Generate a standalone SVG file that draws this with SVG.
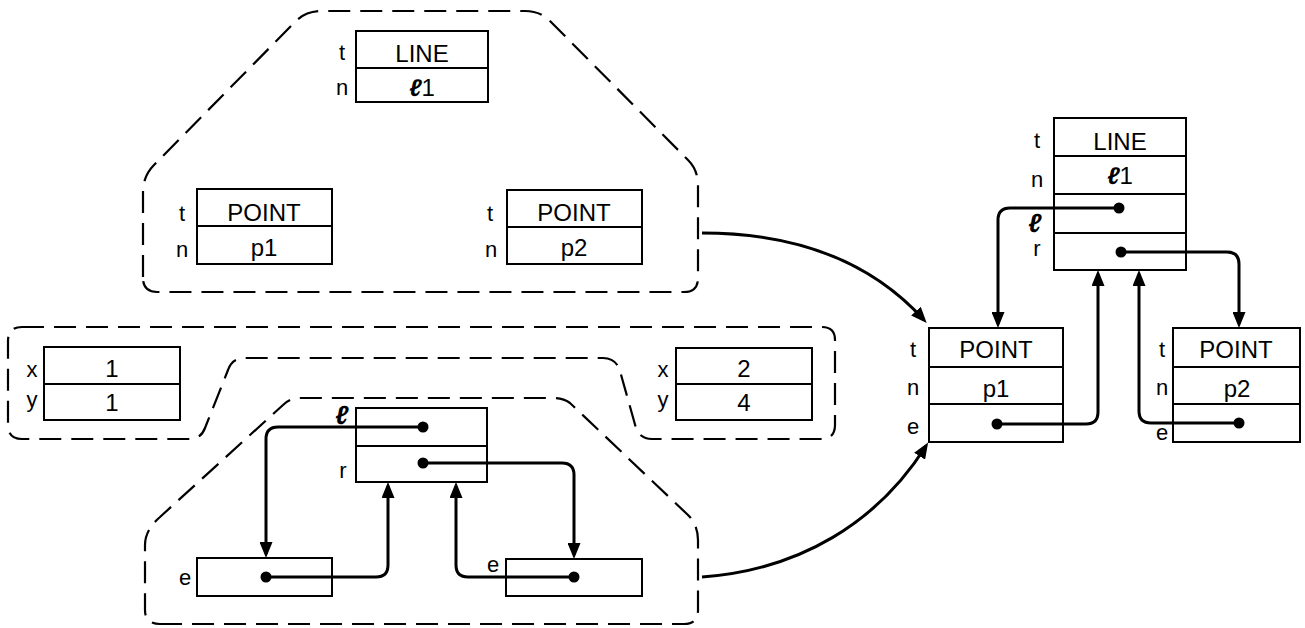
<svg xmlns="http://www.w3.org/2000/svg" width="1305" height="628" viewBox="0 0 1305 628">
<style>
.bx{fill:none;stroke:#000;stroke-width:2}
.dash{fill:none;stroke:#000;stroke-width:2.2;stroke-dasharray:22 10}
.cn{fill:none;stroke:#000;stroke-width:3}
.dot{fill:#000}
text{font-family:"Liberation Sans","DejaVu Sans",sans-serif;fill:#000}
.v{font-size:24px;text-anchor:middle}
.lb{font-size:22px;text-anchor:middle}
.sc{font-size:26px;font-weight:bold;font-style:italic}
</style>
<defs>
<marker id="ah" markerUnits="userSpaceOnUse" markerWidth="17" markerHeight="13" refX="12" refY="6.5" orient="auto">
<path d="M0,0 L16,6.5 L0,13 z" fill="#000"/>
</marker>
</defs>
<rect width="1305" height="628" fill="#fff"/>

<g id="region-top">
<path class="dash" d="M143 277 L143 192 Q143 176 154 165 L296 21 Q306 11 322 11 L525 11 Q540 11 550 21 L688 160 Q698 170 698 185 L698 278 Q698 292 684 292 L157 292 Q143 292 143 278 Z"/>
</g>
<g id="region-mid">
<path class="dash" d="M22 327 L822 327 Q835 327 835 340 L835 425 Q835 439 821 439 L652 439 Q640 439 636 428 L620 371 Q616 358 603 358 L245 358 Q232 358 228 370 L205 428 Q201 439 189 439 L22 439 Q8 439 8 425 L8 341 Q8 327 22 327 Z"/>
</g>
<g id="region-bottom">
<path class="dash" d="M160 624 L684 624 Q698 624 698 610 L698 540 Q698 525 688 515 L570 403 Q563 398 553 398 L300 398 Q290 398 283 405 L160 517 Q145 530 145 545 L145 610 Q145 624 160 624 Z"/>
</g>

<g id="top-line">
<rect class="bx" x="356" y="31" width="132" height="71"/>
<line class="bx" x1="356" y1="68" x2="488" y2="68"/>
<text class="v" x="422" y="62">LINE</text>
<text class="v" x="422" y="96"><tspan font-weight="bold" font-style="italic">ℓ</tspan>1</text>
<text class="lb" x="342" y="60">t</text>
<text class="lb" x="342" y="95">n</text>
</g>
<g id="top-point1">
<rect class="bx" x="197" y="189" width="135" height="75"/>
<line class="bx" x1="197" y1="226" x2="332" y2="226"/>
<text class="v" x="264" y="221">POINT</text>
<text class="v" x="264" y="256">p1</text>
<text class="lb" x="182" y="221">t</text>
<text class="lb" x="182" y="257">n</text>
</g>
<g id="top-point2">
<rect class="bx" x="507" y="190" width="135" height="74"/>
<line class="bx" x1="507" y1="227" x2="642" y2="227"/>
<text class="v" x="574" y="221">POINT</text>
<text class="v" x="574" y="256">p2</text>
<text class="lb" x="490" y="221">t</text>
<text class="lb" x="491" y="257">n</text>
</g>

<g id="xy1">
<rect class="bx" x="44" y="347" width="136" height="73"/>
<line class="bx" x1="44" y1="384" x2="180" y2="384"/>
<text class="v" x="112" y="377">1</text>
<text class="v" x="112" y="411">1</text>
<text class="lb" x="32" y="377">x</text>
<text class="lb" x="32" y="407">y</text>
</g>
<g id="xy2">
<rect class="bx" x="676" y="348" width="136" height="72"/>
<line class="bx" x1="676" y1="384" x2="812" y2="384"/>
<text class="v" x="744" y="377">2</text>
<text class="v" x="744" y="411">4</text>
<text class="lb" x="663" y="377">x</text>
<text class="lb" x="663" y="407">y</text>
</g>

<g id="lr-box">
<rect class="bx" x="356" y="408" width="131" height="74"/>
<line class="bx" x1="356" y1="446" x2="487" y2="446"/>
<text class="lb sc" x="342" y="424">ℓ</text>
<text class="lb" x="343" y="478">r</text>
<circle class="dot" cx="423" cy="427" r="5.5"/>
<circle class="dot" cx="423" cy="463" r="5.5"/>
</g>
<g id="e-box1">
<rect class="bx" x="197" y="558" width="135" height="38"/>
<text class="lb" x="185" y="585">e</text>
<circle class="dot" cx="266" cy="577" r="5.5"/>
</g>
<g id="e-box2">
<rect class="bx" x="506" y="559" width="136" height="37"/>
<text class="lb" x="493" y="572">e</text>
<circle class="dot" cx="574" cy="577" r="5.5"/>
</g>

<g id="right-line">
<rect class="bx" x="1054" y="118" width="132" height="152"/>
<line class="bx" x1="1054" y1="156" x2="1186" y2="156"/>
<line class="bx" x1="1054" y1="194" x2="1186" y2="194"/>
<line class="bx" x1="1054" y1="233" x2="1186" y2="233"/>
<text class="v" x="1120" y="150">LINE</text>
<text class="v" x="1120" y="184"><tspan font-weight="bold" font-style="italic">ℓ</tspan>1</text>
<text class="lb" x="1037" y="148">t</text>
<text class="lb" x="1037" y="187">n</text>
<text class="lb sc" x="1035" y="232">ℓ</text>
<text class="lb" x="1037" y="256">r</text>
<circle class="dot" cx="1119" cy="208" r="5.5"/>
<circle class="dot" cx="1121" cy="252" r="5.5"/>
</g>
<g id="right-point1">
<rect class="bx" x="929" y="328" width="134" height="114"/>
<line class="bx" x1="929" y1="367" x2="1063" y2="367"/>
<line class="bx" x1="929" y1="404" x2="1063" y2="404"/>
<text class="v" x="996" y="358">POINT</text>
<text class="v" x="996" y="397">p1</text>
<text class="lb" x="913" y="357">t</text>
<text class="lb" x="913" y="395">n</text>
<text class="lb" x="913" y="434">e</text>
<circle class="dot" cx="997" cy="424" r="5.5"/>
</g>
<g id="right-point2">
<rect class="bx" x="1173" y="328" width="127" height="114"/>
<line class="bx" x1="1173" y1="367" x2="1300" y2="367"/>
<line class="bx" x1="1173" y1="404" x2="1300" y2="404"/>
<text class="v" x="1236" y="358">POINT</text>
<text class="v" x="1237" y="397">p2</text>
<text class="lb" x="1162" y="357">t</text>
<text class="lb" x="1162" y="395">n</text>
<text class="lb" x="1162" y="440">e</text>
<circle class="dot" cx="1239" cy="423" r="5.5"/>
</g>

<g id="connectors">
<path class="cn" marker-end="url(#ah)" d="M423 427 L278 427 Q266 427 266 439 L266 554"/>
<path class="cn" marker-end="url(#ah)" d="M266 577 L376 577 Q388 577 388 565 L388 486"/>
<path class="cn" marker-end="url(#ah)" d="M423 463 L562 463 Q574 463 574 475 L574 555"/>
<path class="cn" marker-end="url(#ah)" d="M574 577 L468 577 Q456 577 456 565 L456 486"/>
<path class="cn" marker-end="url(#ah)" d="M1119 208 L1010 208 Q998 208 998 220 L998 324"/>
<path class="cn" marker-end="url(#ah)" d="M997 424 L1086 424 Q1098 424 1098 412 L1098 274"/>
<path class="cn" marker-end="url(#ah)" d="M1121 252 L1227 252 Q1239 252 1239 264 L1239 324"/>
<path class="cn" marker-end="url(#ah)" d="M1239 423 L1151 423 Q1139 423 1139 411 L1139 274"/>
<path class="cn" marker-end="url(#ah)" d="M702 233 C790 233 868 258 924 320"/>
<path class="cn" marker-end="url(#ah)" d="M702 577 C800 570 878 522 926 446"/>
</g>
</svg>
